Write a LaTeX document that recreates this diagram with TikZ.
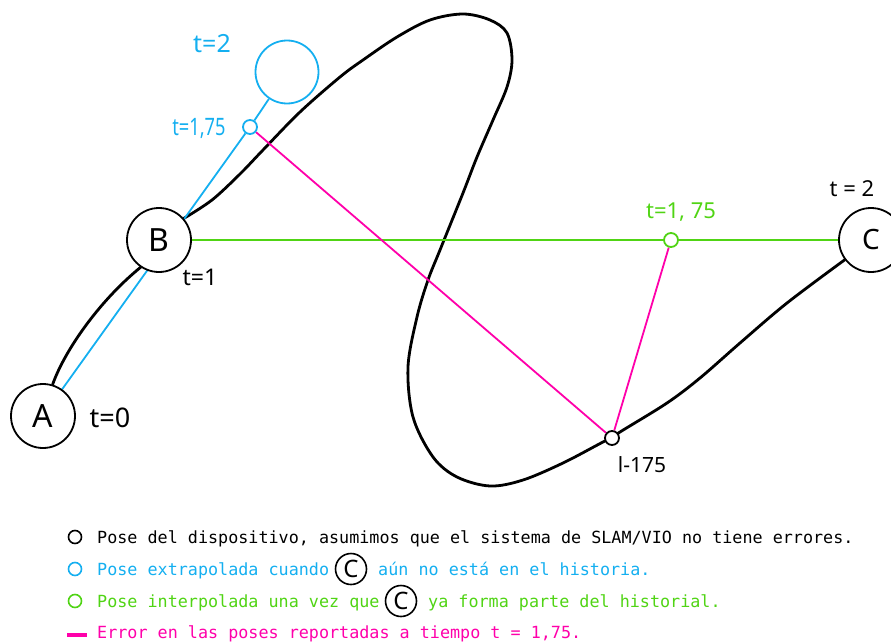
\documentclass[tikz,border=0pt]{standalone}
\usepackage{fontspec}
\usepackage{graphicx}
\usetikzlibrary{backgrounds}
\newfontfamily\handfont{Noto Sans}
\newfontfamily\legmono{DejaVu Sans Mono}
\definecolor{cblue}{RGB}{20,175,240}
\definecolor{cgreen}{RGB}{80,212,20}
\definecolor{cmag}{RGB}{255,0,170}
\begin{document}
\begin{tikzpicture}[x=1pt,y=-1pt,
  bigpose/.style={circle,draw=black,line width=1.8pt,fill=white,inner sep=0pt,minimum size=64pt,
    font={\handfont\fontsize{32}{32}\selectfont}},
  smallpose/.style={circle,draw=#1,line width=1.8pt,fill=white,inner sep=0pt,minimum size=14pt},
  hand/.style={inner sep=0pt,text=#1},
  legdot/.style={circle,draw=#1,line width=1.6pt,fill=white,inner sep=0pt,minimum size=13pt},
  legC/.style={circle,draw=black,line width=1.6pt,fill=white,inner sep=0pt,minimum size=31pt,
    font={\handfont\fontsize{24}{24}\selectfont}},
  legtxt/.style={anchor=base west,inner sep=0pt,text=#1,font={\legmono\fontsize{16.75}{20}\selectfont}},
  blackpath/.style={line width=2.8pt,line cap=round,line join=round},
  thinline/.style={line width=1.8pt,draw=#1}
]
\useasboundingbox (0,0) rectangle (891,642);

% pose nodes
\node[bigpose] (A) at (43,416) {A};
\node[bigpose] (B) at (159,240) {B};
\node[bigpose,font={\handfont\fontsize{28}{28}\selectfont}] (C) at (871,240) {C};
\node[circle,draw=cblue,line width=1.8pt,fill=white,inner sep=0pt,minimum size=63pt] (Bx) at (287,72) {};
\node[smallpose=cblue] (sb) at (250,127) {};
\node[smallpose=cgreen] (g) at (671,240) {};
\node[smallpose=black] (p) at (612,438) {};

% connectors (behind nodes)
\begin{scope}[on background layer]
\draw[blackpath] (A.73) .. controls (64,352) and (98,302) .. (B.236);
\draw[blackpath] plot[smooth,tension=0.55] coordinates {
  (B.41) (212,200) (240,174)
  (263,150) (300,112) (340,77) (363,60) (397,37) (430,20) (463,14) (490,20) (507,33)
  (512,60) (507,87) (493,120) (477,157) (463,193) (440,250) (428,280) (417,317)
  (408,367) (413,417) (433,457) (457,477) (490,486) (523,480) (563,463) (603,442)
  (p.center) (620,432) (667,403) (700,378) (740,343) (787,303) (C.217)};
\draw[thinline=cblue] (A) -- (sb);
\draw[thinline=cblue] (sb) -- (Bx);
\draw[thinline=cgreen] (B) -- (C);
\draw[thinline=cmag] (sb) -- (p);
\draw[thinline=cmag] (g) -- (p);
\end{scope}

% handwritten labels
\node[hand=cblue,font={\handfont\fontsize{25}{25}\selectfont}] (lt2b) at (212,44) {t=2};
\node[hand=cblue,font={\handfont\fontsize{24}{24}\selectfont}] (lt175b) at (199,128) {\scalebox{0.76}[1]{t=1,75}};
\node[hand=black,font={\handfont\fontsize{23}{23}\selectfont}] (lt1) at (200,277) {t=1};
\node[hand=black,font={\handfont\fontsize{27}{27}\selectfont}] (lt0) at (110,418) {t=0};
\node[hand=cgreen,font={\handfont\fontsize{22}{22}\selectfont}] (lt175g) at (681,212) {t=1, 75};
\node[hand=black,font={\handfont\fontsize{22}{22}\selectfont}] (lt2c) at (852,189) {t = 2};
\node[hand=black,font={\handfont\fontsize{21}{21}\selectfont}] (lt175p) at (642,465) {l-175};

% legend
\node[legdot=black] (l1) at (75,537) {};
\node[legtxt=black] (t1) at (97,543) {Pose del dispositivo, asumimos que el sistema de SLAM/VIO no tiene errores.};
\node[legdot=cblue] (l2) at (75,569) {};
\node[legtxt=cblue] (t2a) at (97,575) {Pose extrapolada cuando};
\node[legC] (c2) at (351,569) {C};
\node[legtxt=cblue] (t2b) at (378,575) {aún no está en el historia.};
\node[legdot=cgreen] (l3) at (75,601) {};
\node[legtxt=cgreen] (t3a) at (97,607) {Pose interpolada una vez que};
\node[legC] (c3) at (401,601) {C};
\node[legtxt=cgreen] (t3b) at (428,607) {ya forma parte del historial.};
\node[fill=cmag,inner sep=0pt,minimum width=20pt,minimum height=4.5pt] (l4) at (77,635) {};
\node[legtxt=cmag] (t4) at (97,638) {Error en las poses reportadas a tiempo t = 1,75.};
\end{tikzpicture}
\end{document}
